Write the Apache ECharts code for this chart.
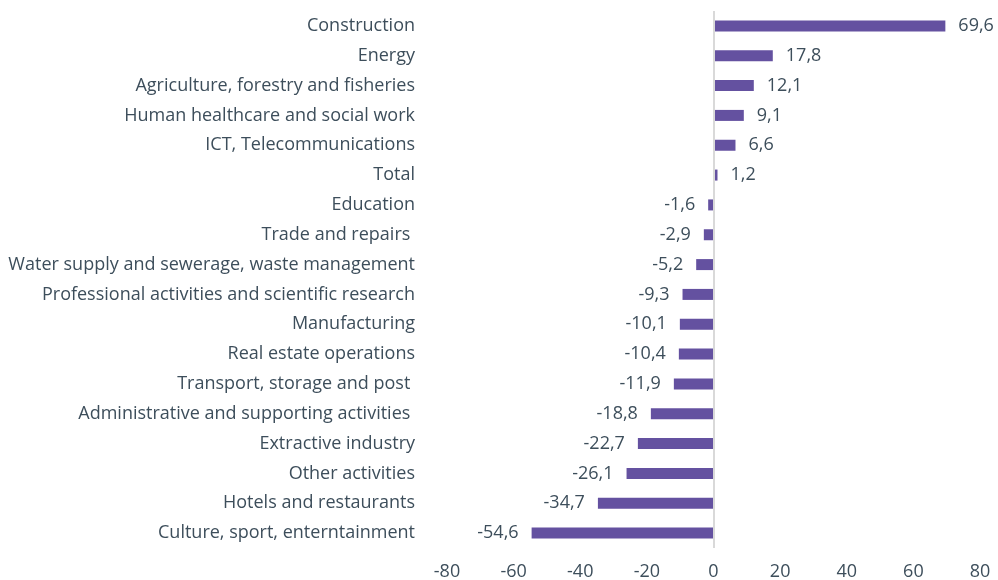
<!DOCTYPE html>
<html>
<head>
<meta charset="utf-8">
<script src="https://cdn.jsdelivr.net/npm/echarts@6/dist/echarts.min.js"></script>
<style>
  html, body { margin: 0; padding: 0; background: #fff; }
  #chart { width: 998px; height: 580px; }
</style>
</head>
<body>
<div id="chart"></div>
<script>
var categories = [
    'Construction',
    'Energy',
    'Agriculture, forestry and fisheries',
    'Human healthcare and social work',
    'ICT, Telecommunications',
    'Total',
    'Education',
    'Trade and repairs ',
    'Water supply and sewerage, waste management',
    'Professional activities and scientific research',
    'Manufacturing',
    'Real estate operations',
    'Transport, storage and post ',
    'Administrative and supporting activities ',
    'Extractive industry',
    'Other activities',
    'Hotels and restaurants',
    'Culture, sport, enterntainment'
];
var values = [69.6, 17.8, 12.1, 9.1, 6.6, 1.2, -1.6, -2.9, -5.2, -9.3, -10.1, -10.4, -11.9, -18.8, -22.7, -26.1, -34.7, -54.6];
var xTicks = [-80, 80, 20];

var textColor = '#3d4e5b';
var chart = echarts.init(document.getElementById('chart'));

var barData = values.map(function (v) {
    return { value: v, label: { position: v < 0 ? 'left' : 'right' } };
});

chart.setOption({
    animation: false,
    textStyle: { fontFamily: 'Open Sans' },
    grid: { left: 447, right: 18, top: 11, bottom: 32, containLabel: false, outerBoundsMode: 'none' },
    xAxis: {
        type: 'value',
        min: xTicks[0],
        max: xTicks[1],
        interval: xTicks[2],
        axisLine: { show: false },
        axisTick: { show: false },
        splitLine: { show: false },
        axisLabel: { color: textColor, fontSize: 18, margin: 15 }
    },
    yAxis: {
        type: 'category',
        data: categories,
        inverse: true,
        axisLine: { show: false, onZero: false },
        axisTick: { show: false },
        axisLabel: { color: textColor, fontSize: 18, margin: 32 }
    },
    series: [{
        type: 'bar',
        data: barData,
        barWidth: 11,
        itemStyle: { color: '#6451a0' },
        label: {
            show: true,
            distance: 13,
            color: textColor,
            fontSize: 18,
            formatter: function (p) { return String(p.value).replace('.', ','); }
        },
        markLine: {
            silent: true,
            symbol: 'none',
            label: { show: false },
            lineStyle: { color: '#d9d9d9', type: 'solid', width: 2 },
            data: [{ xAxis: 0 }]
        }
    }]
});
</script>
</body>
</html>
